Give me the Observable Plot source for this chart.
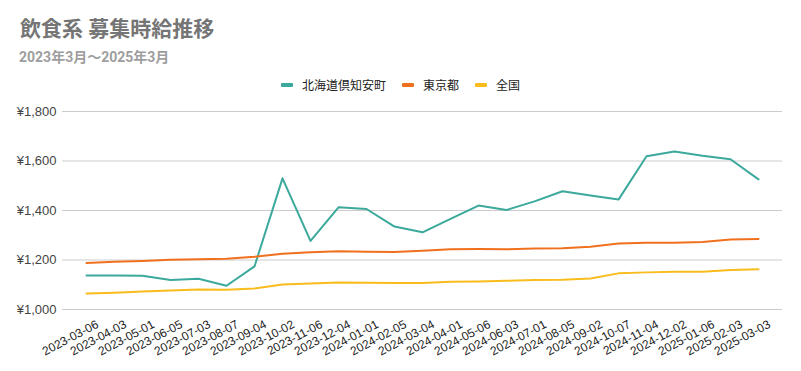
<!DOCTYPE html>
<html>
<head>
<meta charset="utf-8">
<script src="https://cdn.jsdelivr.net/npm/d3@7"></script>
<script src="https://cdn.jsdelivr.net/npm/@observablehq/plot@0.6"></script>
<style>
  html, body { margin: 0; padding: 0; background: #fff; }
  #wrap { width: 801px; height: 371px; position: relative; overflow: hidden; }
  #head { position: relative; height: 100px; }
  #title { position: absolute; left: 20px; top: 16px; font: bold 21px Roboto, "Noto Sans CJK JP", sans-serif; color: #757575; line-height: 26px; white-space: nowrap; }
  #subtitle { position: absolute; left: 19px; top: 48px; font: bold 14px Roboto, "Noto Sans CJK JP", sans-serif; color: #9e9e9e; line-height: 18px; white-space: nowrap; }
  #legend { position: absolute; left: 0; width: 801px; top: 76px; display: flex; justify-content: center; gap: 0; font: 12px "Noto Sans CJK JP", sans-serif; color: #222; line-height: 18px; }
  .item { display: flex; align-items: center; margin: 0 8px; }
  .sw { width: 12px; height: 4px; margin-right: 9px; border-radius: 1px; }
  #chart svg { display: block; }
</style>
</head>
<body>
<div id="wrap">
  <div id="head">
    <div id="title">飲食系 募集時給推移</div>
    <div id="subtitle">2023年3月～2025年3月</div>
    <div id="legend"></div>
  </div>
  <div id="chart"></div>
</div>
<script>
const dates = ["2023-03-06","2023-04-03","2023-05-01","2023-06-05","2023-07-03","2023-08-07","2023-09-04","2023-10-02","2023-11-06","2023-12-04","2024-01-01","2024-02-05","2024-03-04","2024-04-01","2024-05-06","2024-06-03","2024-07-01","2024-08-05","2024-09-02","2024-10-07","2024-11-04","2024-12-02","2025-01-06","2025-02-03","2025-03-03"];
const hokkaido = [1137,1137,1136,1119,1124,1096,1174,1530,1277,1413,1406,1335,1312,1366,1420,1402,1437,1478,1461,1444,1619,1638,1621,1607,1526];
const tokyo = [1188,1193,1196,1201,1203,1205,1213,1225,1231,1235,1233,1232,1237,1243,1244,1243,1246,1247,1254,1267,1270,1270,1273,1283,1285];
const zenkoku = [1065,1068,1073,1077,1081,1080,1085,1101,1105,1109,1108,1107,1107,1112,1113,1116,1119,1120,1125,1146,1150,1153,1153,1160,1163];
const seriesNames = ["北海道倶知安町","東京都","全国"];
const colors = ["#3ba99b","#f0701e","#f8bc1c"];
const yTicks = [1000,1200,1400,1600,1800];

const allSeries = [hokkaido, tokyo, zenkoku];
const rows = [];
allSeries.forEach((vals, s) => vals.forEach((v, i) => rows.push({date: dates[i], value: v, series: seriesNames[s]})));

const legend = document.getElementById("legend");
seriesNames.forEach((n, i) => {
  const it = document.createElement("div");
  it.className = "item";
  it.innerHTML = `<span class="sw" style="background:${colors[i]}"></span><span>${n}</span>`;
  legend.appendChild(it);
});

const chart = Plot.plot({
  width: 801,
  height: 271,
  marginLeft: 62,
  marginRight: 19,
  marginTop: 11,
  marginBottom: 62,
  style: {fontFamily: "'Liberation Sans', Arial, sans-serif", color: "#222", background: "#fff"},
  x: {type: "point", domain: dates, padding: 0.5, label: null},
  y: {domain: [1000, 1800], label: null},
  color: {domain: seriesNames, range: colors},
  marks: [
    Plot.gridY(yTicks, {stroke: "#cccccc", strokeOpacity: 1, strokeWidth: 1}),
    Plot.axisY(yTicks, {tickSize: 0, tickPadding: 6, fontSize: 13, fill: "#444", tickFormat: d => "¥" + d3.format(",")(d), label: null}),
    Plot.axisX({tickSize: 0, tickPadding: 14, tickRotate: -28, fontSize: 12, fill: "#222", dx: 11, label: null}),
    Plot.line(rows, {x: "date", y: "value", z: "series", stroke: "series", strokeWidth: 2})
  ]
});
document.getElementById("chart").appendChild(chart);
</script>
</body>
</html>
